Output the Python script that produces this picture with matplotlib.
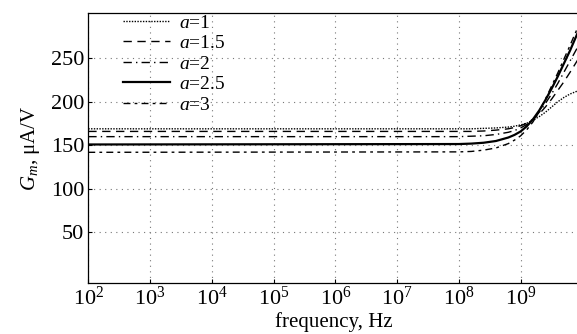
import numpy as np
import matplotlib
matplotlib.use("Agg")
import matplotlib.pyplot as plt

plt.rcParams['font.family'] = ['Liberation Serif', 'DejaVu Serif']
plt.rcParams['mathtext.fontset'] = 'custom'
plt.rcParams['mathtext.rm'] = 'Liberation Serif'
plt.rcParams['mathtext.it'] = 'Liberation Serif:italic'

# log10 of frequency (Hz) at sampled points
log_f = [2, 8.0, 8.2, 8.4, 8.6, 8.8, 8.9, 9.0, 9.1, 9.2, 9.3, 9.4, 9.5, 9.6, 9.7, 9.8, 9.94]
g_a1 = [169, 169, 169, 169.5, 170, 171, 172, 173.5, 175.5, 179, 183, 188, 194, 200, 205, 209, 213]
g_a15 = [166, 166, 166, 166.5, 167.5, 169, 170.5, 172.5, 175.5, 180, 186, 194, 203, 213, 223, 234, 250]
g_a2 = [160, 160, 160.5, 161, 162.5, 165, 167, 170, 174, 180, 188, 198, 209, 221, 234, 247, 265]
g_a25 = [151, 151.5, 152, 153, 155, 159, 162, 166, 172, 180, 190, 202, 215, 229, 244, 259, 282]
g_a3 = [142, 142.5, 143, 144.5, 147, 152, 156, 161, 168, 177, 189, 203, 218, 233, 249, 265, 288]
labels = ['$a$=1', '$a$=1.5', '$a$=2', '$a$=2.5', '$a$=3']
yticks = [50, 100, 150, 200, 250]

freq = 10.0 ** np.array(log_f)

fig = plt.figure(figsize=(5.77, 3.34), dpi=100)
ax = fig.add_axes([0.153, 0.153, 0.85, 0.808])

styles = [
    dict(ls=(0, (1, 1)), lw=1.0),
    dict(ls=(0, (6, 4)), lw=1.0),
    dict(ls=(0, (6, 3, 1, 3)), lw=1.0),
    dict(ls='-', lw=1.6),
    dict(ls=(0, (5, 3, 2, 3)), lw=1.0),
]
series = [g_a1, g_a15, g_a2, g_a25, g_a3]
for s, st, lab in zip(series, styles, labels):
    ax.plot(freq, s, color='black', label=lab, **st)

ax.set_xscale('log')
ax.set_xlim(1e2, 10 ** 9.94)
ax.set_ylim(-8, 302)
ax.set_yticks(yticks)
ax.set_xticks([10.0 ** k for k in range(2, 10)])
ax.xaxis.set_minor_locator(matplotlib.ticker.NullLocator())
ax.tick_params(direction='in', labelsize=16, length=3, pad=3)
ax.grid(True, which='major', ls=(0, (1, 4)), color='#777777', lw=0.8)

ax.spines['right'].set_visible(False)
ax.spines['top'].set_linestyle((0, (2, 1)))
for side in ['left', 'bottom', 'top']:
    ax.spines[side].set_linewidth(0.9)

ax.set_xlabel('frequency, Hz', fontsize=15, labelpad=1)
ax.set_ylabel('$G_m$, μA/V', fontsize=15, labelpad=6)

leg = ax.legend(loc='upper left', bbox_to_anchor=(0.055, 1.025), frameon=False,
                fontsize=14, handlelength=2.4, labelspacing=0.15,
                handletextpad=0.5, borderaxespad=0.0)

fig.savefig('out.png', dpi=100)
